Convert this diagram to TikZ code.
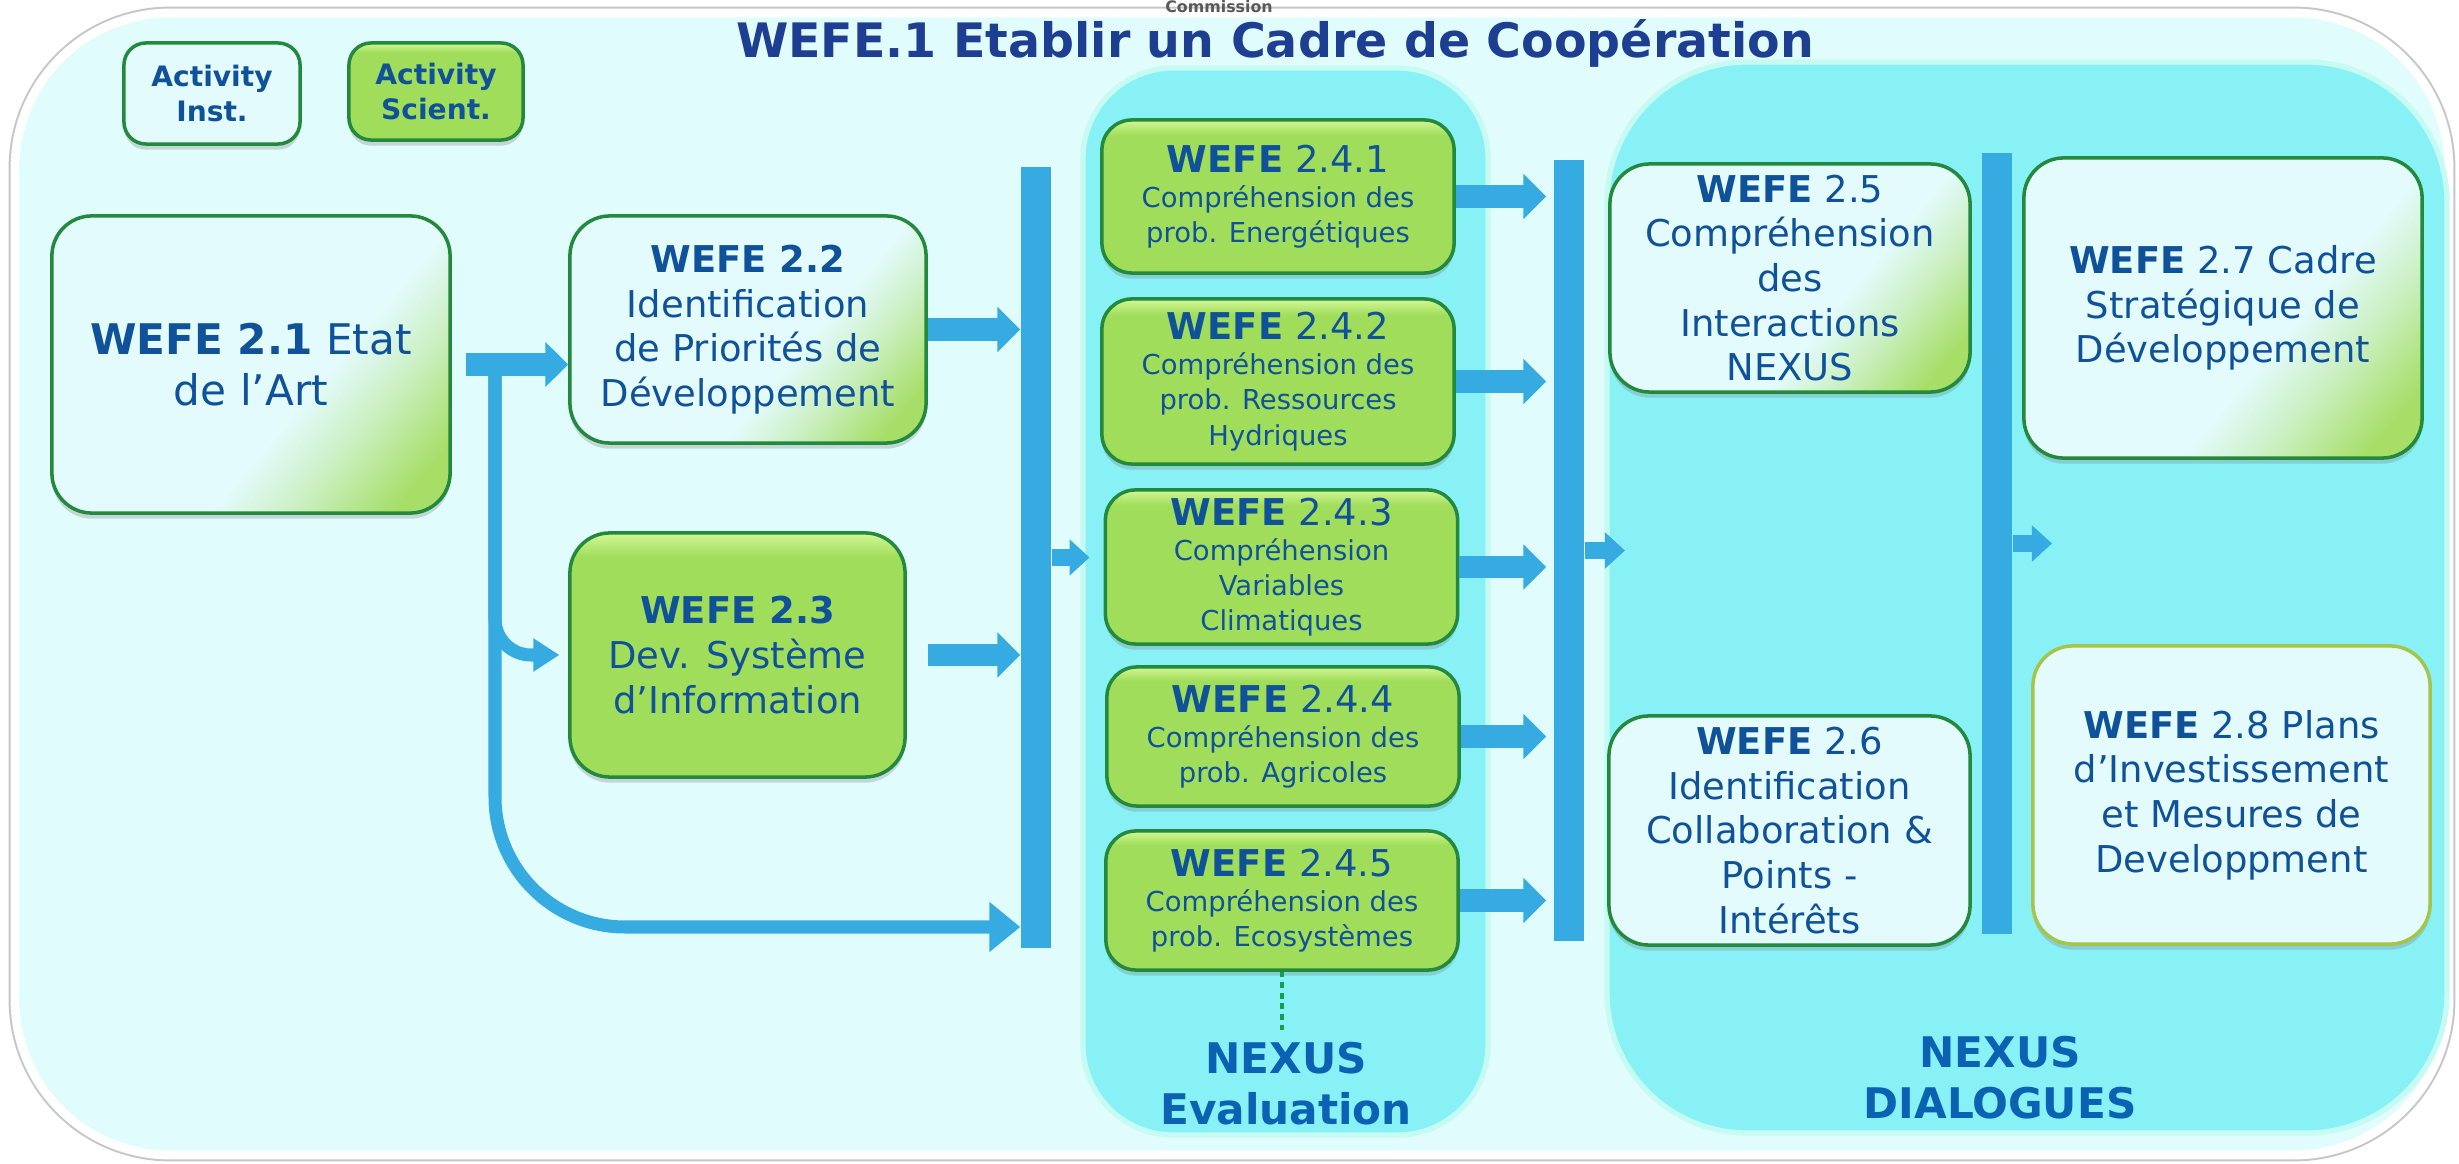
\documentclass[tikz,border=0pt]{standalone}
\usepackage{fontspec}
\setmainfont{DejaVu Sans}
\usetikzlibrary{arrows.meta,shadows}

\definecolor{outerfill}{HTML}{E1FCFD}
\definecolor{panelfill}{HTML}{88F1F6}
\definecolor{panelrim}{HTML}{C6FBF4}
\definecolor{flowblue}{HTML}{36ABE1}
\definecolor{txtblue}{HTML}{10529A}
\definecolor{titleblue}{HTML}{1E3F91}
\definecolor{nexusblue}{HTML}{0B62B2}
\definecolor{scigreen}{HTML}{A0DD5A}
\definecolor{sciglow}{HTML}{D2F795}
\definecolor{instfill}{HTML}{E3FBFD}
\definecolor{instgreen}{HTML}{A6DE68}
\definecolor{edgegreen}{HTML}{23893C}
\definecolor{edgeolive}{HTML}{A5C54A}
\definecolor{dotgreen}{HTML}{12A050}

\pgfdeclareverticalshading{sciglossy}{100bp}{color(0bp)=(scigreen); color(70bp)=(scigreen); color(75bp)=(sciglow); color(100bp)=(sciglow)}
\pgfdeclarehorizontalshading{instcorner}{100bp}{color(0bp)=(instfill); color(59bp)=(instfill); color(68bp)=(instgreen!40!instfill); color(79bp)=(instgreen); color(100bp)=(instgreen)}

\tikzset{
  actbox/.style={rounded corners=0.4cm, draw=edgegreen, line width=1pt, inner sep=0pt, align=center, text=txtblue,
    drop shadow={shadow xshift=0pt, shadow yshift=-1.6pt, opacity=0.3}},
  instbox/.style={actbox, fill=instfill},
  instgrad/.style={actbox, shading=instcorner, shading angle=-40},
  scibox/.style={actbox, shading=sciglossy},
  evalbox/.style={scibox, rounded corners=0.3cm, minimum width=3.52cm, font=\fontsize{7.8}{10}\selectfont},
  bigtext/.style={font=\fontsize{10.5}{12.7}\selectfont},
  flowbar/.style={fill=flowblue, inner sep=0pt, minimum width=0.3cm, minimum height=7.81cm},
  bigflow/.style={draw=flowblue, line width=6.3pt, -{Triangle[length=6.5pt, width=12.5pt]}},
  smallflow/.style={draw=flowblue, line width=4.8pt, -{Triangle[length=5.7pt, width=10pt]}},
  thinflow/.style={draw=flowblue, line width=3.7pt},
  nexuslabel/.style={align=center, text=nexusblue, font=\fontsize{12}{14.5}\selectfont\bfseries},
  dotlink/.style={draw=dotgreen, line width=1.1pt, dash pattern=on 1.6pt off 1.4pt}
}

\newcommand{\wefe}[1]{{\fontsize{10.5}{10}\selectfont{\bfseries WEFE} #1}}

\begin{document}
\begin{tikzpicture}[x=0.01cm, y=-0.01cm, line join=round]
\useasboundingbox (0,0) rectangle (2459,1164);

% background and panels
\filldraw[fill=outerfill, draw=gray!45, line width=0.8pt, rounded corners=1.6cm] (10,8) rectangle (2454,1160);
\draw[white, line width=2.5pt, rounded corners=1.55cm] (15,13) rectangle (2449,1155);
\filldraw[fill=panelfill, draw=panelrim, line width=1.5pt, rounded corners=0.9cm] (1083,68) rectangle (1488,1135);
\filldraw[fill=panelfill, draw=panelrim, line width=1.5pt, rounded corners=1.4cm] (1607,62) rectangle (2447,1133);

\node[anchor=base, text=gray!70!black, font=\fontsize{4.5}{5}\selectfont\bfseries] (source) at (1219,13) {Commission};
\node[anchor=base, text=titleblue, font=\fontsize{13.5}{16}\selectfont\bfseries] (title) at (1275,58) {WEFE.1 Etablir un Cadre de Coopération};

% legend
\node[instbox, rounded corners=0.22cm, minimum width=1.76cm, minimum height=1.01cm, font=\fontsize{8}{10}\selectfont\bfseries] (leginst) at (212,93.5) {Activity\\Inst.};
\node[scibox, rounded corners=0.22cm, minimum width=1.74cm, minimum height=0.97cm, font=\fontsize{8}{10}\selectfont\bfseries] (legsci) at (436,91.5) {Activity\\Scient.};

% activities
\node[instgrad, minimum width=3.98cm, minimum height=2.97cm, font=\fontsize{12}{14.5}\selectfont] (b21) at (251,364.5) {{\bfseries WEFE 2.1} Etat\\de l’Art};
\node[instgrad, bigtext, minimum width=3.56cm, minimum height=2.27cm] (b22) at (748,329.5) {{\bfseries WEFE 2.2}\\Identification\\de Priorités de\\Développement};
\node[scibox, bigtext, minimum width=3.35cm, minimum height=2.44cm] (b23) at (737.5,655) {{\bfseries WEFE 2.3}\\Dev. Système\\d’Information};

\node[evalbox, minimum height=1.53cm] (b241) at (1278,196.5) {\wefe{2.4.1}\\Compréhension des\\prob. Energétiques};
\node[evalbox, minimum height=1.65cm] (b242) at (1278,381.5) {\wefe{2.4.2}\\Compréhension des\\prob. Ressources\\Hydriques};
\node[evalbox, minimum height=1.54cm] (b243) at (1281.5,567) {\wefe{2.4.3}\\Compréhension\\Variables\\Climatiques};
\node[evalbox, minimum height=1.39cm] (b244) at (1283,736.5) {\wefe{2.4.4}\\Compréhension des\\prob. Agricoles};
\node[evalbox, minimum height=1.39cm] (b245) at (1282,900.5) {\wefe{2.4.5}\\Compréhension des\\prob. Ecosystèmes};

\node[instgrad, bigtext, minimum width=3.6cm, minimum height=2.28cm] (b25) at (1790,278) {{\bfseries WEFE} 2.5\\Compréhension\\des\\Interactions\\NEXUS};
\node[instbox, bigtext, minimum width=3.61cm, minimum height=2.29cm] (b26) at (1789.5,830.5) {{\bfseries WEFE} 2.6\\Identification\\Collaboration \&\\Points -\\Intérêts};
\node[instgrad, bigtext, minimum width=3.98cm, minimum height=3cm] (b27) at (2223,308) {{\bfseries WEFE} 2.7 Cadre\\Stratégique de\\Développement};
\node[instbox, bigtext, draw=edgeolive, minimum width=3.97cm, minimum height=2.98cm] (b28) at (2231.5,795) {{\bfseries WEFE} 2.8 Plans\\d’Investissement\\et Mesures de\\Developpment};

% collecting bars
\node[flowbar] (bar1) at (1036,557.5) {};
\node[flowbar] (bar2) at (1569,550.5) {};
\node[flowbar] (bar3) at (1997,543.5) {};

\node[nexuslabel] (labeval) at (1286,1084) {NEXUS\\Evaluation};
\node[nexuslabel] (labdlg) at (2000,1078) {NEXUS\\DIALOGUES};

% flows
\coordinate (fork) at (495,376);
\coordinate (lowrow) at (0,927);
\coordinate (dlgin) at (1625,550.5);
\coordinate (stratin) at (2052,543.5);

\draw[bigflow, shorten <=4pt] (b21.east) -- (b21.east -| b22.west);
\draw[thinflow, rounded corners=1.3cm, -{Triangle[length=8.8pt, width=13.7pt]}] (fork) |- (lowrow -| bar1.west);
\draw[thinflow, rounded corners=0.36cm, -{Triangle[length=7.4pt, width=9pt]}, shorten >=2.5pt] (fork) |- (b23.west);
\draw[bigflow] (b22.east) -- (b22.east -| bar1.west);
\draw[bigflow, shorten <=6pt] (b23.east) -- (b23.east -| bar1.west);
\draw[smallflow, shorten >=4pt] (bar1.east) -- (bar1.east -| b243.west);
\foreach \b in {b241,b242,b243,b244,b245}
  \draw[bigflow, shorten >=2pt] (\b.east) -- (\b.east -| bar2.west);
\draw[smallflow] (bar2.east) -- (dlgin);
\draw[smallflow] (bar3.east) -- (stratin);
\draw[dotlink] (b245.south) -- (b245.south |- labeval.north);
\end{tikzpicture}
\end{document}
